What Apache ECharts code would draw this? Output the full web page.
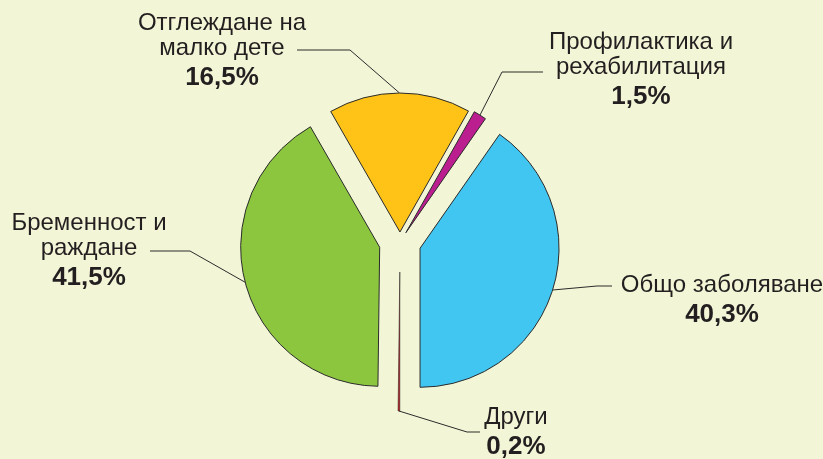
<!DOCTYPE html>
<html>
<head>
<meta charset="utf-8">
<script src="https://cdn.jsdelivr.net/npm/echarts@6/dist/echarts.min.js"></script>
<style>
  html, body { margin: 0; padding: 0; background: #f3f6d6; }
  #chart { width: 823px; height: 459px; }
</style>
</head>
<body>
<div id="chart"></div>
<script>
// Slices in clockwise order, starting with "Общо заболяване"
const categories = ['Общо заболяване', 'Други', 'Бременност и\nраждане', 'Отглеждане на\nмалко дете', 'Профилактика и\nрехабилитация'];
const shares = [40.3, 0.2, 41.5, 16.5, 1.5];
const colors = ['#41c6f2', '#d0121b', '#8cc63f', '#fec316', '#bb1e8e'];

// How far each slice is pulled away from the shared centre (px)
const pullOut = [21, 30, 21, 10, 11];

// Label block placement (centre x, top y) and leader-line elbow / end points
const labelPlace = [
  { x: 722, y: 273, elbow: [597, 286], end: [612, 286] },
  { x: 516, y: 405, elbow: [467, 432], end: [480, 432] },
  { x: 89,  y: 211, elbow: [190, 251], end: [150, 251] },
  { x: 222, y: 11,  elbow: [350, 50],  end: [297, 50] },
  { x: 641, y: 30,  elbow: [502, 72],  end: [543, 72] }
];

const CX = 400, CY = 242, RADIUS = 139;
const total = shares.reduce((a, b) => a + b, 0);
// first slice ends exactly at 6 o'clock
const startAngle = 90 - (180 - 360 * shares[0] / total);

const fontFamily = '"Liberation Sans", Arial, Helvetica, sans-serif';

function fmtPercent(v) {
  return v.toFixed(1).replace('.', ',') + '%';
}

const series = [];
let cum = 0;
shares.forEach((v, i) => {
  const midDeg = startAngle - 360 * (cum + v / 2) / total;
  cum += v;
  const a = midDeg * Math.PI / 180;
  const cx = CX + Math.cos(a) * pullOut[i];
  const cy = CY - Math.sin(a) * pullOut[i];
  const place = labelPlace[i];

  series.push({
    type: 'pie',
    center: [cx, cy],
    radius: [0, RADIUS],
    startAngle: startAngle,
    clockwise: true,
    avoidLabelOverlap: false,
    silent: true,
    animation: false,
    emphasis: { disabled: true },
    data: shares.map((val, j) => ({
      value: val,
      name: categories[j],
      itemStyle: j === i
        ? { color: colors[j], borderColor: '#2b2b2b', borderWidth: j === 1 ? 0.6 : 1 }
        : { color: 'rgba(0,0,0,0)', borderWidth: 0 },
      label: { show: j === i },
      labelLine: { show: j === i }
    })),
    label: {
      position: 'outside',
      formatter: (p) => p.name.split('\n').map(s => '{n|' + s + '}').join('\n') + '\n{p|' + fmtPercent(p.value) + '}',
      rich: {
        n: { fontFamily, fontSize: 24, lineHeight: 25, color: '#231f20', align: 'center' },
        p: { fontFamily, fontSize: 26, fontWeight: 'bold', lineHeight: 33, color: '#231f20', align: 'center' }
      }
    },
    labelLine: {
      show: true,
      length: 10,
      length2: 10,
      smooth: false,
      lineStyle: { color: '#2b2b2b', width: 1 }
    },
    labelLayout: function (params) {
      if (params.dataIndex !== i) return {};
      const out = { x: place.x, y: place.y, align: 'center', verticalAlign: 'top' };
      if (params.labelLinePoints && params.labelLinePoints.length) {
        out.labelLinePoints = [params.labelLinePoints[0], place.elbow, place.end];
      }
      return out;
    }
  });
});

const chart = echarts.init(document.getElementById('chart'), null, { renderer: 'canvas' });
chart.setOption({
  backgroundColor: '#f3f6d6',
  animation: false,
  series: series
});
</script>
</body>
</html>
